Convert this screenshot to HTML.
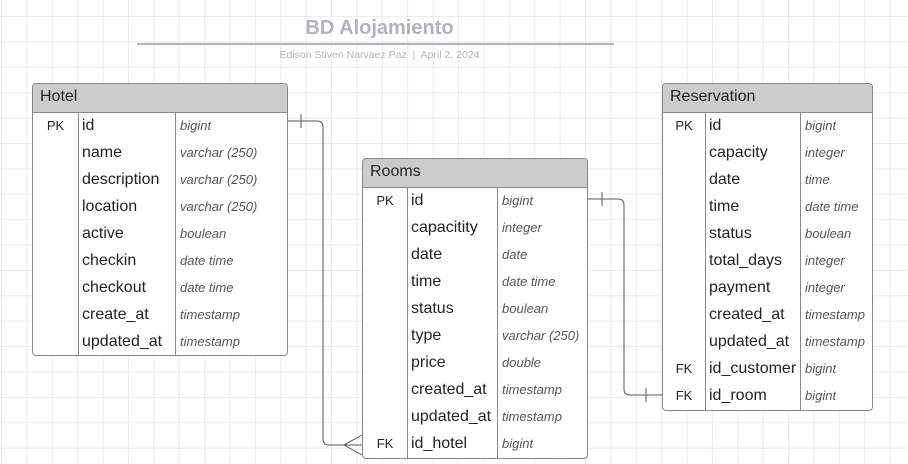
<!DOCTYPE html>
<html><head><style>
body{margin:0;width:908px;height:464px;overflow:hidden;background:#fff;font-family:"Liberation Sans",sans-serif;
background-image:linear-gradient(#ebebeb 1px,transparent 1px),linear-gradient(90deg,#ebebeb 1px,transparent 1px);background-size:25.4px 25.4px;background-position:1px 16px;}
.t{position:absolute;border:1px solid #888;border-radius:4px;background:#fff;overflow:hidden}
.h{height:28px;background:#ccc;border-bottom:1px solid #888;font-size:16px;color:#222;line-height:26px;padding-left:7px}
.r{height:27px;display:flex;font-size:16px;color:#222;line-height:25px}
.r div{overflow:hidden;white-space:nowrap}
.k{font-size:13px;text-align:center}
.n{border-left:1px solid #888;border-right:1px solid #888;padding-left:3px}
.y{font-style:italic;font-size:13px;color:#555;padding-left:4px}
</style></head><body>
<div style="position:absolute;left:137px;top:17px;width:485px;text-align:center;font-weight:bold;font-size:20px;color:#b0b3ba">BD Alojamiento</div>
<div style="position:absolute;left:137px;top:43px;width:477px;height:2px;background:#b0b3ba"></div>
<div style="position:absolute;left:137px;top:49px;width:485px;text-align:center;font-size:10.5px;color:#b0b3ba">Edison Stiven Narvaez Paz &nbsp;|&nbsp; April 2, 2024</div>
<svg style="position:absolute;left:0;top:0" width="908" height="464"><g fill="none" stroke="#555" stroke-width="1">
<path d="M287 121 H317 Q323 121 323 127 V439 Q323 445 329 445 H362"/><path d="M301 114 V128"/>
<path d="M362 435 L344 445 L362 455 M344 445 H362"/>
<path d="M587 199 H618 Q624 199 624 205 V389 Q624 395 630 395 H662"/><path d="M602 192 V206 M646 388 V402"/>
</g></svg>
<div class="t" style="left:32px;top:83px;width:254px;height:271px"><div class="h">Hotel</div>
<div class="r"><div class="k" style="width:45px">PK</div><div class="n" style="width:93px">id</div><div class="y">bigint</div></div>
<div class="r"><div class="k" style="width:45px"></div><div class="n" style="width:93px">name</div><div class="y">varchar (250)</div></div>
<div class="r"><div class="k" style="width:45px"></div><div class="n" style="width:93px">description</div><div class="y">varchar (250)</div></div>
<div class="r"><div class="k" style="width:45px"></div><div class="n" style="width:93px">location</div><div class="y">varchar (250)</div></div>
<div class="r"><div class="k" style="width:45px"></div><div class="n" style="width:93px">active</div><div class="y">boulean</div></div>
<div class="r"><div class="k" style="width:45px"></div><div class="n" style="width:93px">checkin</div><div class="y">date time</div></div>
<div class="r"><div class="k" style="width:45px"></div><div class="n" style="width:93px">checkout</div><div class="y">date time</div></div>
<div class="r"><div class="k" style="width:45px"></div><div class="n" style="width:93px">create_at</div><div class="y">timestamp</div></div>
<div class="r"><div class="k" style="width:45px"></div><div class="n" style="width:93px">updated_at</div><div class="y">timestamp</div></div>
</div>
<div class="t" style="left:362px;top:158px;width:224px;height:299px"><div class="h">Rooms</div>
<div class="r"><div class="k" style="width:44px">PK</div><div class="n" style="width:86px">id</div><div class="y">bigint</div></div>
<div class="r"><div class="k" style="width:44px"></div><div class="n" style="width:86px">capacitity</div><div class="y">integer</div></div>
<div class="r"><div class="k" style="width:44px"></div><div class="n" style="width:86px">date</div><div class="y">date</div></div>
<div class="r"><div class="k" style="width:44px"></div><div class="n" style="width:86px">time</div><div class="y">date time</div></div>
<div class="r"><div class="k" style="width:44px"></div><div class="n" style="width:86px">status</div><div class="y">boulean</div></div>
<div class="r"><div class="k" style="width:44px"></div><div class="n" style="width:86px">type</div><div class="y">varchar (250)</div></div>
<div class="r"><div class="k" style="width:44px"></div><div class="n" style="width:86px">price</div><div class="y">double</div></div>
<div class="r"><div class="k" style="width:44px"></div><div class="n" style="width:86px">created_at</div><div class="y">timestamp</div></div>
<div class="r"><div class="k" style="width:44px"></div><div class="n" style="width:86px">updated_at</div><div class="y">timestamp</div></div>
<div class="r"><div class="k" style="width:44px">FK</div><div class="n" style="width:86px">id_hotel</div><div class="y">bigint</div></div>
</div>
<div class="t" style="left:662px;top:83px;width:209px;height:326px"><div class="h">Reservation</div>
<div class="r"><div class="k" style="width:42px">PK</div><div class="n" style="width:91px">id</div><div class="y">bigint</div></div>
<div class="r"><div class="k" style="width:42px"></div><div class="n" style="width:91px">capacity</div><div class="y">integer</div></div>
<div class="r"><div class="k" style="width:42px"></div><div class="n" style="width:91px">date</div><div class="y">time</div></div>
<div class="r"><div class="k" style="width:42px"></div><div class="n" style="width:91px">time</div><div class="y">date time</div></div>
<div class="r"><div class="k" style="width:42px"></div><div class="n" style="width:91px">status</div><div class="y">boulean</div></div>
<div class="r"><div class="k" style="width:42px"></div><div class="n" style="width:91px">total_days</div><div class="y">integer</div></div>
<div class="r"><div class="k" style="width:42px"></div><div class="n" style="width:91px">payment</div><div class="y">integer</div></div>
<div class="r"><div class="k" style="width:42px"></div><div class="n" style="width:91px">created_at</div><div class="y">timestamp</div></div>
<div class="r"><div class="k" style="width:42px"></div><div class="n" style="width:91px">updated_at</div><div class="y">timestamp</div></div>
<div class="r"><div class="k" style="width:42px">FK</div><div class="n" style="width:91px">id_customer</div><div class="y">bigint</div></div>
<div class="r"><div class="k" style="width:42px">FK</div><div class="n" style="width:91px">id_room</div><div class="y">bigint</div></div>
</div>
</body></html>
